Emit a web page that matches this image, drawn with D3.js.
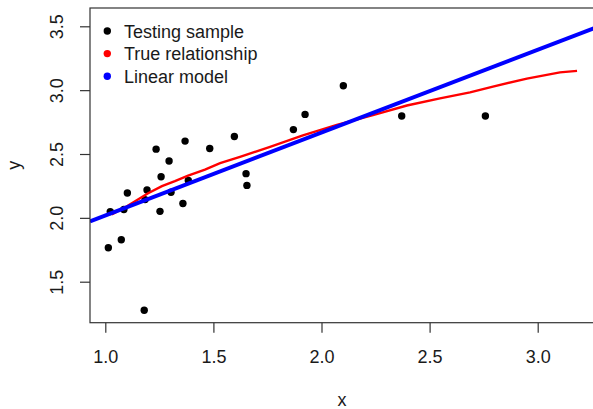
<!DOCTYPE html>
<html>
<head>
<meta charset="utf-8">
<script src="https://cdn.jsdelivr.net/npm/d3@7"></script>
<style>
  body { margin: 0; background: #fff; }
  text { font-family: "Liberation Sans", Arial, sans-serif; }
</style>
</head>
<body>
<div id="chart"></div>
<script>
// testing sample (x, y)
var sampleX = [1.014, 1.023, 1.074, 1.086, 1.102, 1.180, 1.184, 1.193, 1.235, 1.253, 1.258, 1.295,
               1.304, 1.359, 1.369, 1.384, 1.483, 1.597, 1.651, 1.655, 1.870, 1.924, 2.101, 2.371, 2.758];
var sampleY = [1.766, 2.049, 1.828, 2.065, 2.195, 1.277, 2.143, 2.218, 2.538, 2.051, 2.322, 2.445,
               2.200, 2.112, 2.601, 2.293, 2.543, 2.637, 2.346, 2.254, 2.691, 2.810, 3.034, 2.798, 2.798];

// true relationship curve
var trueX = [1.030, 1.100, 1.198, 1.262, 1.322, 1.383, 1.461, 1.531, 1.623, 1.762, 1.914, 2.071,
             2.131, 2.238, 2.395, 2.548, 2.687, 2.793, 2.950, 3.103, 3.182];
var trueY = [2.026, 2.091, 2.193, 2.248, 2.287, 2.330, 2.377, 2.428, 2.478, 2.556, 2.646, 2.728,
             2.755, 2.805, 2.880, 2.935, 2.982, 3.028, 3.090, 3.139, 3.151];

// linear model fit
var lmIntercept = 1.3705;
var lmSlope = 0.6486;

var xTicks = [1.0, 1.5, 2.0, 2.5, 3.0];
var yTicks = [1.5, 2.0, 2.5, 3.0, 3.5];

var legendLabels = ["Testing sample", "True relationship", "Linear model"];
var legendColors = ["#000000", "#ff0000", "#0000ff"];

var width = 593, height = 409;
var plotLeft = 90, plotRight = 594, plotTop = 8, plotBottom = 322.7;

var svg = d3.select("#chart").append("svg")
    .attr("width", width)
    .attr("height", height);

svg.append("rect").attr("width", width).attr("height", height).attr("fill", "#fff");

var x = d3.scaleLinear().domain([1, 3]).range([105.3, 537.7]);
var y = d3.scaleLinear().domain([1.5, 3.5]).range([281.7, 26.3]);

svg.append("defs").append("clipPath").attr("id", "plotclip")
    .append("rect")
    .attr("x", plotLeft).attr("y", plotTop)
    .attr("width", plotRight - plotLeft).attr("height", plotBottom - plotTop);

var plot = svg.append("g").attr("clip-path", "url(#plotclip)");

// points
plot.append("g").selectAll("circle")
    .data(d3.range(sampleX.length))
    .enter().append("circle")
    .attr("cx", function (i) { return x(sampleX[i]); })
    .attr("cy", function (i) { return y(sampleY[i]); })
    .attr("r", 3.7)
    .attr("fill", "#000");

// true relationship
var line = d3.line()
    .x(function (i) { return x(trueX[i]); })
    .y(function (i) { return y(trueY[i]); });

plot.append("path")
    .attr("d", line(d3.range(trueX.length)))
    .attr("fill", "none")
    .attr("stroke", "#ff0000")
    .attr("stroke-width", 2.4);

// linear model (abline)
var x0 = x.invert(plotLeft), x1 = x.invert(plotRight);
plot.append("line")
    .attr("x1", x(x0)).attr("y1", y(lmIntercept + lmSlope * x0))
    .attr("x2", x(x1)).attr("y2", y(lmIntercept + lmSlope * x1))
    .attr("stroke", "#0000ff")
    .attr("stroke-width", 4);

// frame
svg.append("rect")
    .attr("x", plotLeft).attr("y", plotTop)
    .attr("width", plotRight - plotLeft).attr("height", plotBottom - plotTop)
    .attr("fill", "none")
    .attr("stroke", "#333")
    .attr("stroke-width", 1.2);

// x axis
var gx = svg.append("g")
    .attr("transform", "translate(0," + plotBottom + ")")
    .call(d3.axisBottom(x).tickValues(xTicks).tickSize(10).tickFormat(d3.format(".1f")));
gx.select(".domain").remove();
gx.selectAll(".tick line").attr("stroke", "#333").attr("stroke-width", 1.2);
gx.selectAll(".tick text")
    .attr("y", 40.5).attr("dy", null)
    .attr("font-size", 18).attr("fill", "#1a1a1a");

// y axis
var gy = svg.append("g")
    .attr("transform", "translate(" + plotLeft + ",0)")
    .call(d3.axisLeft(y).tickValues(yTicks).tickSize(10).tickFormat(d3.format(".1f")));
gy.select(".domain").remove();
gy.selectAll(".tick line").attr("stroke", "#333").attr("stroke-width", 1.2);
gy.selectAll(".tick text")
    .attr("x", null).attr("dy", null)
    .attr("text-anchor", "middle")
    .attr("transform", "translate(-26.7,0) rotate(-90)")
    .attr("font-size", 18).attr("fill", "#1a1a1a");

// axis titles
svg.append("text")
    .attr("x", (plotLeft + plotRight) / 2).attr("y", 406)
    .attr("text-anchor", "middle")
    .attr("font-size", 18).attr("fill", "#1a1a1a")
    .text("x");

svg.append("text")
    .attr("transform", "translate(19.5," + (plotTop + plotBottom) / 2 + ") rotate(-90)")
    .attr("text-anchor", "middle")
    .attr("font-size", 18).attr("fill", "#1a1a1a")
    .text("y");

// legend
var legend = svg.append("g").selectAll("g")
    .data(legendLabels)
    .enter().append("g")
    .attr("transform", function (d, i) { return "translate(107.3," + (31 + i * 22.6) + ")"; });

legend.append("circle")
    .attr("r", 3.7)
    .attr("fill", function (d, i) { return legendColors[i]; });

legend.append("text")
    .attr("x", 16.7).attr("y", 6.7)
    .attr("font-size", 18).attr("fill", "#1a1a1a")
    .text(function (d) { return d; });
</script>
</body>
</html>
